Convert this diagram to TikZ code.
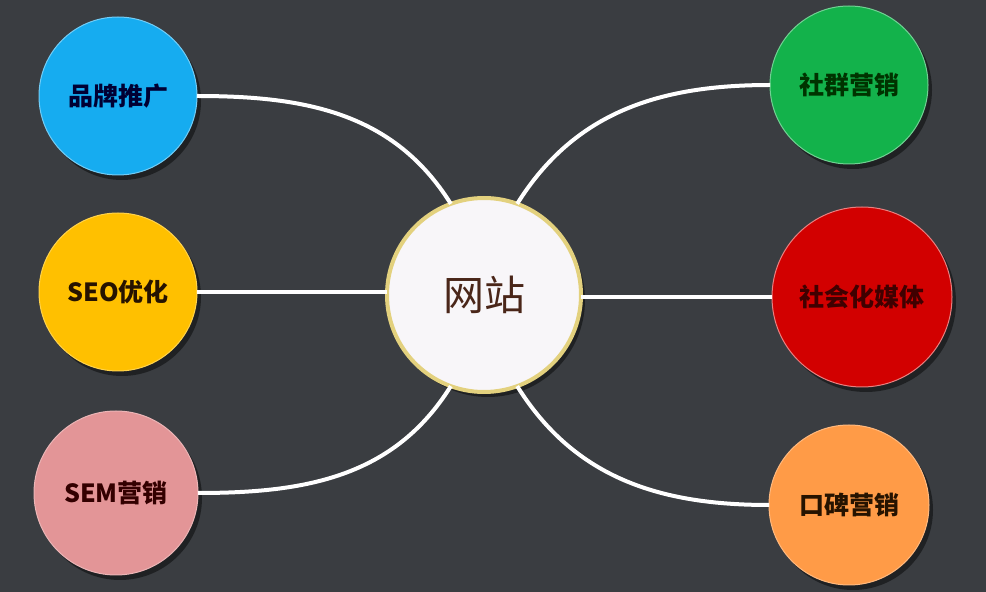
\documentclass[tikz,border=0pt]{standalone}
\usepackage{fontspec}
\setmainfont{Noto Sans CJK SC}
\usetikzlibrary{shadows}
\definecolor{bg}{HTML}{3A3D41}
\definecolor{cblue}{HTML}{16ACF0}
\definecolor{cyellow}{HTML}{FFC000}
\definecolor{cpink}{HTML}{E39597}
\definecolor{cgreen}{HTML}{13B24B}
\definecolor{cred}{HTML}{D20000}
\definecolor{corange}{HTML}{FF9B47}
\definecolor{cwhite}{HTML}{F8F6F9}
\definecolor{cgold}{HTML}{E3D17E}
\definecolor{tcenter}{HTML}{4A2619}
\begin{document}
\begin{tikzpicture}[x=1pt,y=1pt,
  bub/.style={circle, inner sep=0pt, outer sep=0pt, line width=1pt,
    font=\fontsize{25}{29}\selectfont\bfseries,
    drop shadow={shadow xshift=4pt, shadow yshift=-5pt, opacity=0.45, fill=black}},
  link/.style={white, line width=4pt}]
\useasboundingbox (0,0) rectangle (986,592);
\fill[bg] (0,0) rectangle (986,592);
% center
\node[circle, inner sep=0pt, outer sep=0pt, minimum size=194pt, fill=cwhite, draw=cgold, line width=4pt,
  drop shadow={shadow xshift=4pt, shadow yshift=-5pt, opacity=0.45, fill=black},
  font=\fontsize{41}{45}\selectfont, text=tcenter] (c) at (484,297) {网站};
% left
\node[bub, minimum size=158pt, fill=cblue, draw=cblue!60!white, text=black!80!blue] (a1) at (118,496) {品牌推广};
\node[bub, minimum size=158pt, fill=cyellow, draw=cyellow!70!white, text=black!85!orange] (a2) at (118,300) {SEO优化};
\node[bub, minimum size=164pt, fill=cpink, draw=cpink!70!white, text=black!80!red] (a3) at (116,99) {SEM营销};
% right
\node[bub, minimum size=158pt, fill=cgreen, draw=cgreen!60!white, text=black!80!green] (b1) at (849,507) {社群营销};
\node[bub, minimum size=180pt, fill=cred, draw=cred!50!white, text=black!75!red] (b2) at (862,295) {社会化媒体};
\node[bub, minimum size=160pt, fill=corange, draw=corange!70!white, text=black!85!orange] (b3) at (849,87) {口碑营销};
% links
\draw[link] (a1.east) to[out=0, in=122] (c.110);
\draw[link] (a2.east) -- (c.west |- a2.east);
\draw[link] (a3.east) to[out=0, in=238] (c.250);
\draw[link] (b1.west) to[out=180, in=58] (c.70);
\draw[link] (b2.west) -- (c.east |- b2.west);
\draw[link] (b3.west) to[out=180, in=302] (c.290);
\end{tikzpicture}
\end{document}
